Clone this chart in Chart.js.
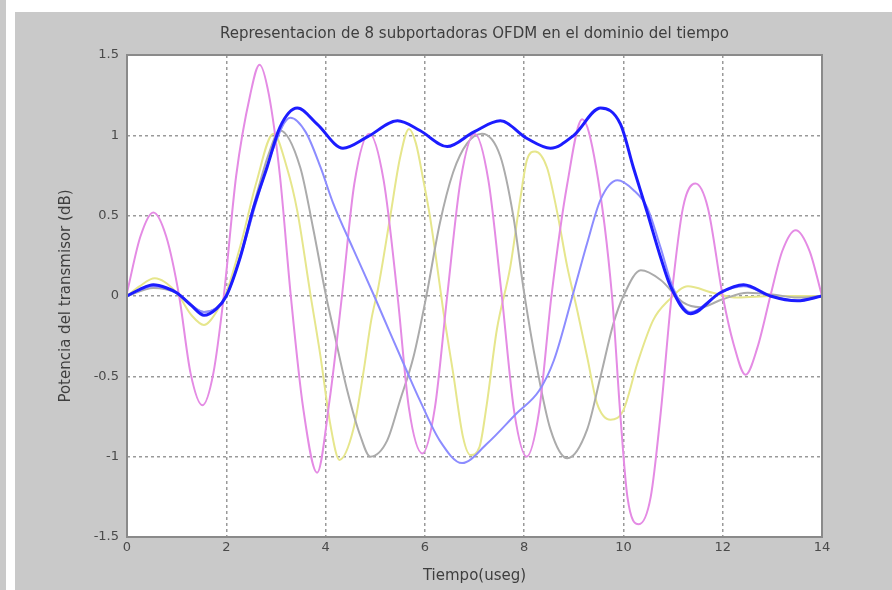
<!DOCTYPE html>
<html>
<head>
<meta charset="utf-8">
<script src="https://cdn.jsdelivr.net/npm/chart.js@4/dist/chart.umd.min.js"></script>
<style>
  body { margin: 0; background: #fff; width: 892px; height: 590px; overflow: hidden; position: relative; }
  #strip { position: absolute; left: 0; top: 0; width: 6px; height: 590px; background: #c9c9c9; }
  #panel { position: absolute; left: 15px; top: 12px; width: 877px; height: 578px; background: #c9c9c9; }
  #ofdm-chart { position: absolute; left: 0; top: 0; }
</style>
</head>
<body>
<div id="strip"></div>
<div id="panel"></div>
<canvas id="ofdm-chart" width="892" height="590"></canvas>
<script>
var titleText = 'Representacion de 8 subportadoras OFDM en el dominio del tiempo';
var xLabel = 'Tiempo(useg)';
var yLabel = 'Potencia del transmisor (dB)';
var xTicks = [0, 2, 4, 6, 8, 10, 12, 14];
var yTicks = [-1.5, -1, -0.5, 0, 0.5, 1, 1.5];

// thick blue curve
var sumT = [0, 0.25, 0.53, 0.8, 1.0, 1.3, 1.55, 1.8, 2.0, 2.28, 2.55, 2.82, 3.08, 3.43, 3.83, 4.35, 4.84, 5.45, 5.9, 6.45, 6.98, 7.52, 8.06, 8.53, 9.0, 9.54, 9.94, 10.2, 10.48, 10.75, 10.95, 11.35, 11.95, 12.42, 12.96, 13.5, 14];
var sumY = [0, 0.04, 0.07, 0.05, 0.02, -0.06, -0.12, -0.08, 0, 0.24, 0.55, 0.8, 1.05, 1.17, 1.07, 0.92, 0.99, 1.09, 1.03, 0.93, 1.02, 1.09, 0.98, 0.92, 1.0, 1.17, 1.07, 0.8, 0.52, 0.24, 0.06, -0.11, 0.02, 0.07, 0, -0.03, 0];

// light blue
var lightBlueT = [0, 0.53, 1.0, 1.55, 2.0, 2.3, 2.6, 2.9, 3.29, 3.6, 3.9, 4.15, 4.56, 4.98, 5.3, 5.64, 5.9, 6.3, 6.75, 7.25, 7.85, 8.3, 8.6, 9.0, 9.27, 9.54, 9.88, 10.2, 10.48, 10.75, 11.0, 11.35, 11.95, 12.42, 12.96, 13.5, 14];
var lightBlueY = [0, 0.06, 0.02, -0.1, 0, 0.26, 0.58, 0.88, 1.11, 1.02, 0.8, 0.58, 0.29, 0, -0.23, -0.47, -0.65, -0.9, -1.04, -0.92, -0.73, -0.59, -0.4, 0.03, 0.33, 0.6, 0.72, 0.66, 0.55, 0.3, 0.05, -0.1, 0.02, 0.06, 0, -0.03, 0];

// gray
var grayT = [0, 0.53, 1.0, 1.55, 2.0, 2.3, 2.6, 2.85, 3.08, 3.49, 3.75, 4.01, 4.16, 4.43, 4.7, 4.9, 5.24, 5.5, 5.77, 6.03, 6.3, 6.57, 6.85, 7.15, 7.52, 7.78, 8.0, 8.26, 8.53, 8.87, 9.27, 9.54, 9.8, 10.0, 10.35, 10.75, 11.2, 11.55, 12.0, 12.5, 13.0, 13.5, 14];
var grayY = [0, 0.05, 0.02, -0.1, 0, 0.27, 0.62, 0.88, 1.03, 0.8, 0.42, 0, -0.21, -0.58, -0.87, -1.0, -0.9, -0.65, -0.38, 0, 0.45, 0.77, 0.95, 1.01, 0.87, 0.5, 0.02, -0.45, -0.83, -1.01, -0.83, -0.5, -0.17, 0, 0.16, 0.1, -0.04, -0.07, -0.02, 0.02, 0.01, -0.01, 0];

// yellow
var yellowT = [0, 0.25, 0.56, 1.0, 1.3, 1.55, 1.8, 2.0, 2.3, 2.6, 2.95, 3.22, 3.43, 3.69, 3.9, 4.09, 4.28, 4.56, 4.76, 4.92, 5.06, 5.3, 5.5, 5.68, 5.82, 5.97, 6.1, 6.25, 6.37, 6.57, 6.77, 6.92, 7.1, 7.24, 7.45, 7.72, 7.92, 8.06, 8.22, 8.46, 8.66, 8.87, 9.07, 9.27, 9.47, 9.74, 10.0, 10.28, 10.6, 10.9, 11.3, 11.8, 12.3, 13.0, 14];
var yellowY = [0, 0.06, 0.11, 0.02, -0.12, -0.18, -0.1, 0.02, 0.33, 0.7, 1.01, 0.8, 0.53, 0.02, -0.38, -0.79, -1.02, -0.83, -0.48, -0.15, 0.05, 0.49, 0.86, 1.04, 0.95, 0.72, 0.5, 0.18, -0.09, -0.48, -0.88, -0.99, -0.94, -0.69, -0.21, 0.18, 0.6, 0.85, 0.9, 0.8, 0.53, 0.18, -0.09, -0.38, -0.67, -0.77, -0.71, -0.42, -0.15, -0.03, 0.06, 0.02, -0.01, 0, 0];

// magenta
var magentaT = [0, 0.27, 0.53, 0.79, 1.05, 1.28, 1.52, 1.74, 1.95, 2.2, 2.48, 2.67, 2.86, 3.08, 3.3, 3.55, 3.83, 4.08, 4.33, 4.58, 4.88, 5.17, 5.45, 5.68, 5.95, 6.2, 6.45, 6.72, 7.0, 7.28, 7.55, 7.8, 8.05, 8.3, 8.55, 8.87, 9.17, 9.45, 9.77, 9.94, 10.08, 10.31, 10.55, 10.75, 10.97, 11.2, 11.45, 11.7, 12.0, 12.22, 12.46, 12.7, 12.96, 13.2, 13.47, 13.75, 14];
var magentaY = [0.02, 0.37, 0.52, 0.37, 0, -0.48, -0.68, -0.48, 0, 0.75, 1.25, 1.44, 1.25, 0.75, 0, -0.7, -1.1, -0.65, 0, 0.7, 1.01, 0.72, 0, -0.7, -0.98, -0.7, 0, 0.72, 1.01, 0.72, 0, -0.72, -1.0, -0.72, 0, 0.7, 1.1, 0.8, 0, -0.75, -1.25, -1.42, -1.25, -0.73, 0, 0.55, 0.7, 0.55, 0, -0.3, -0.49, -0.32, 0, 0.28, 0.41, 0.28, 0];

function points(ts, ys) {
  return ts.map(function(t, i) { return { x: t, y: ys[i] }; });
}

function curve(ts, ys, color, width) {
  return {
    data: points(ts, ys),
    borderColor: color,
    borderWidth: width,
    pointRadius: 0,
    fill: false,
    cubicInterpolationMode: 'monotone'
  };
}

// white plot area + gray box like matlab axes
var plotFrame = {
  id: 'plotFrame',
  beforeDraw: function(chart) {
    var a = chart.chartArea, ctx = chart.ctx;
    ctx.save();
    ctx.fillStyle = '#ffffff';
    ctx.fillRect(a.left, a.top, a.right - a.left, a.bottom - a.top);
    ctx.restore();
  },
  afterDraw: function(chart) {
    var a = chart.chartArea, ctx = chart.ctx;
    ctx.save();
    ctx.strokeStyle = '#8a8a8a';
    ctx.lineWidth = 2;
    ctx.strokeRect(a.left, a.top, a.right - a.left, a.bottom - a.top);
    ctx.restore();
  }
};

var tickFont = { family: 'DejaVu Sans', size: 13 };
var labelFont = { family: 'DejaVu Sans', size: 15 };

var ctx = document.getElementById('ofdm-chart');

var chart = new Chart(ctx, {
  type: 'line',
  data: {
    datasets: [
      curve(sumT, sumY, '#1c1cff', 3),
      curve(lightBlueT, lightBlueY, '#8c8cff', 2),
      curve(magentaT, magentaY, '#e48be4', 2),
      curve(grayT, grayY, '#ababab', 2),
      curve(yellowT, yellowY, '#e6e68c', 2)
    ]
  },
  options: {
    responsive: false,
    animation: false,
    layout: { padding: { left: 0, right: 70, top: 25, bottom: 0 } },
    plugins: {
      legend: { display: false },
      tooltip: { enabled: false },
      title: {
        display: true,
        fullSize: false,
        text: titleText,
        color: '#3e3e3e',
        font: { family: 'DejaVu Sans', size: 15, weight: 'normal' },
        padding: { top: 0, bottom: 12 }
      }
    },
    scales: {
      x: {
        type: 'linear',
        min: 0,
        max: 14,
        afterBuildTicks: function(s) { s.ticks = xTicks.map(function(v) { return { value: v }; }); },
        afterFit: function(s) { s.height = 53; },
        ticks: { color: '#4a4a4a', font: tickFont, padding: 3, maxRotation: 0, callback: function(v) { return String(v); } },
        grid: { color: '#9a9a9a', lineWidth: 1.5, drawTicks: false },
        border: { display: false, dash: [3, 3] },
        title: { display: true, text: xLabel, color: '#3e3e3e', font: labelFont, padding: { top: 0, bottom: 5 } }
      },
      y: {
        min: -1.5,
        max: 1.5,
        afterBuildTicks: function(s) { s.ticks = yTicks.map(function(v) { return { value: v }; }); },
        afterFit: function(s) { s.width = 127; },
        ticks: { color: '#4a4a4a', font: tickFont, padding: 8, callback: function(v) { return String(v); } },
        grid: { color: '#9a9a9a', lineWidth: 1.5, drawTicks: false },
        border: { display: false, dash: [3, 3] },
        title: { display: true, text: yLabel, color: '#3e3e3e', font: labelFont, padding: { top: 57, bottom: 0 } }
      }
    }
  },
  plugins: [plotFrame]
});
</script>
</body>
</html>
